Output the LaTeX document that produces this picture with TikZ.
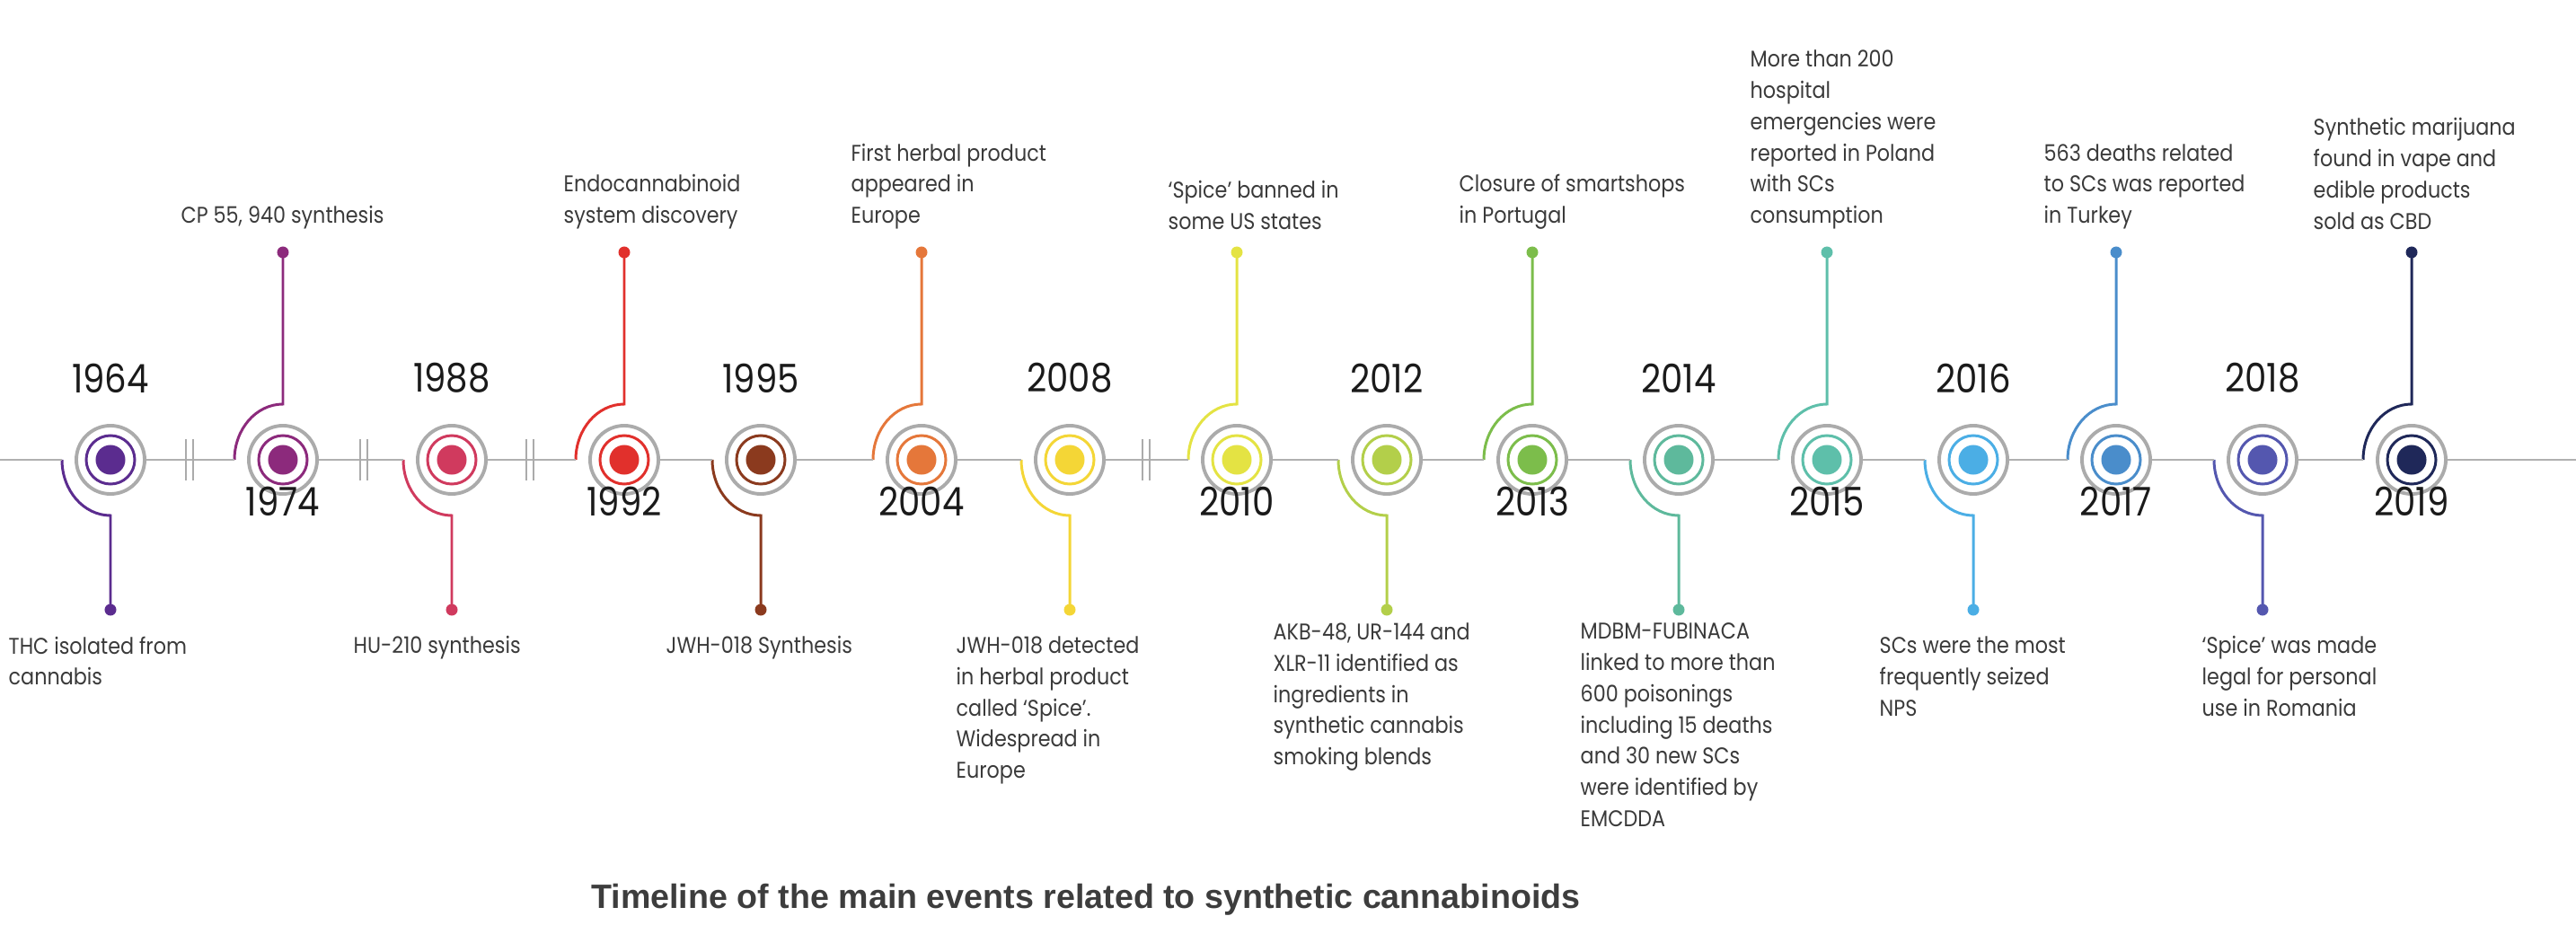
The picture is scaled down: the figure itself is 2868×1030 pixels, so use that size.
\documentclass[tikz,border=0pt]{standalone}
\usepackage{fontspec}
\setmainfont{Poppins}[FakeStretch=0.88]
\newfontfamily\captionfont{Liberation Sans}
\usetikzlibrary{calc}

\definecolor{ringgray}{HTML}{ABABAB}
\definecolor{linegray}{HTML}{B0B0B0}
\definecolor{desctext}{HTML}{3A3A3A}
\definecolor{yeartext}{HTML}{1A1A1A}
\definecolor{capgray}{HTML}{3D3D3D}
\definecolor{col1964}{HTML}{5B2C8F}
\definecolor{col1974}{HTML}{8C2A7C}
\definecolor{col1988}{HTML}{D03A5E}
\definecolor{col1992}{HTML}{E1302C}
\definecolor{col1995}{HTML}{8B3A1E}
\definecolor{col2004}{HTML}{E5773A}
\definecolor{col2008}{HTML}{F4D636}
\definecolor{col2010}{HTML}{E4E343}
\definecolor{col2012}{HTML}{B3CF4A}
\definecolor{col2013}{HTML}{7CBD4B}
\definecolor{col2014}{HTML}{5EB99C}
\definecolor{col2015}{HTML}{5EBFAA}
\definecolor{col2016}{HTML}{4BAEE5}
\definecolor{col2017}{HTML}{4A8DCB}
\definecolor{col2018}{HTML}{5457AF}
\definecolor{col2019}{HTML}{1F2859}

\tikzset{
    outerring/.style={circle, draw=ringgray, line width=1.1pt, fill=white,
        minimum size=0.76cm, inner sep=0pt},
    innerring/.style={circle, line width=0.85pt, minimum size=0.54cm, inner sep=0pt},
    core/.style={circle, minimum size=0.33cm, inner sep=0pt},
    enddot/.style={circle, minimum size=0.13cm, inner sep=0pt},
    link/.style={line width=0.85pt},
    axis/.style={draw=linegray, line width=0.85pt},
    breakbar/.style={draw=ringgray, line width=0.7pt},
    yearlabel/.style={font=\fontsize{12.5}{14}\selectfont, text=yeartext, inner sep=0pt},
    uptext/.style={anchor=south west, align=left, inner sep=0pt,
        font=\fontsize{7.2}{9.9}\selectfont, text=desctext},
    downtext/.style={anchor=north west, align=left, inner sep=0pt,
        font=\fontsize{7.2}{9.9}\selectfont, text=desctext},
}

\begin{document}
\begin{tikzpicture}[x=0.01cm, y=0.01cm]

    \useasboundingbox (0,-518) rectangle (2868,512);

    % rings, connectors and years
    \foreach \yr/\x/\s in {1964/123/-1, 1974/315/1, 1988/503/-1, 1992/695/1,
        1995/847/-1, 2004/1026/1, 2008/1191/-1, 2010/1377/1, 2012/1544/-1,
        2013/1706/1, 2014/1869/-1, 2015/2034/1, 2016/2197/-1, 2017/2356/1,
        2018/2519/-1, 2019/2685/1}
    {
        \pgfmathsetmacro{\ea}{180-90*\s}
        \pgfmathsetmacro{\dy}{32+199*\s}
        \pgfmathsetmacro{\yl}{22.5-68.5*\s}
        \node [outerring] (e\yr) at (\x,0) {};
        \node [innerring, draw=col\yr] at (e\yr) {};
        \node [core, fill=col\yr] at (e\yr) {};
        \node [enddot, fill=col\yr] (d\yr) at (\x,\dy) {};
        \draw [link, col\yr] ($(e\yr)+(-54,0)$)
            arc[start angle=180, end angle=\ea, x radius=54, y radius=62] -- (d\yr.center);
        \node [yearlabel] (y\yr) at (\x,\yl) {\yr};
    }

    % axis
    \draw [axis] (0,0) -- ($(e1964)+(-54,0)$);
    \foreach \a/\b in {1964/1974, 1974/1988, 1988/1992, 1992/1995, 1995/2004,
        2004/2008, 2008/2010, 2010/2012, 2012/2013, 2013/2014, 2014/2015,
        2015/2016, 2016/2017, 2017/2018, 2018/2019}
        \draw [axis] (e\a.east) -- ($(e\b)+(-54,0)$);
    \draw [axis] (e2019.east) -- (2868,0);

    \foreach \bx in {211,405,590,1276}
        \draw [breakbar] (\bx-4,-23) -- (\bx-4,23) (\bx+4,-23) -- (\bx+4,23);

    % events above
    \node [uptext] (t1974) at (201,256) {CP 55, 940 synthesis};
    \node [uptext] (t1992) at (627,256) {Endocannabinoid\\system discovery};
    \node [uptext] (t2004) at (947,256) {First herbal product\\appeared in\\Europe};
    \node [uptext] (t2010) at (1300,256) {‘Spice’ banned in\\some US states};
    \node [uptext] (t2013) at (1624,256) {Closure of smartshops\\in Portugal};
    \node [uptext] (t2015) at (1948,256) {More than 200\\hospital\\emergencies were\\reported in Poland\\with SCs\\consumption};
    \node [uptext] (t2017) at (2275,256) {563 deaths related\\to SCs was reported\\in Turkey};
    \node [uptext] (t2019) at (2575,256) {Synthetic marijuana\\found in vape and\\edible products\\sold as CBD};

    % events below
    \node [downtext] (t1964) at (9,-196) {THC isolated from\\cannabis};
    \node [downtext] (t1988) at (393,-196) {HU-210 synthesis};
    \node [downtext] (t1995) at (741,-196) {JWH-018 Synthesis};
    \node [downtext] (t2008) at (1064,-196) {JWH-018 detected\\in herbal product\\called ‘Spice’.\\Widespread in\\Europe};
    \node [downtext] (t2012) at (1417,-181) {AKB-48, UR-144 and\\XLR-11 identified as\\ingredients in\\synthetic cannabis\\smoking blends};
    \node [downtext] (t2014) at (1759,-181) {MDBM-FUBINACA\\linked to more than\\600 poisonings\\including 15 deaths\\and 30 new SCs\\were identified by\\EMCDDA};
    \node [downtext] (t2016) at (2092,-196) {SCs were the most\\frequently seized\\NPS};
    \node [downtext] (t2018) at (2451,-196) {‘Spice’ was made\\legal for personal\\use in Romania};

    \node [font={\captionfont\bfseries\fontsize{10.7}{12}\selectfont}, text=capgray]
        (title) at (1209,-490) {Timeline of the main events related to synthetic cannabinoids};

\end{tikzpicture}
\end{document}
